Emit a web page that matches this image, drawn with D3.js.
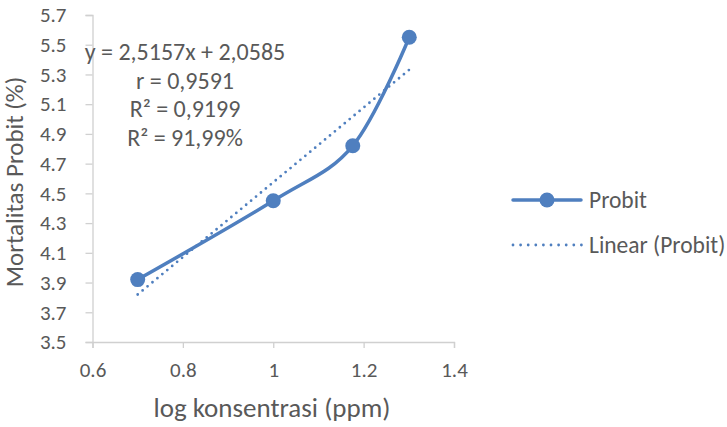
<!DOCTYPE html>
<html>
<head>
<meta charset="utf-8">
<script src="https://cdn.jsdelivr.net/npm/d3@7"></script>
<style>
  body { margin: 0; background: #fff; }
  text { font-family: Calibri, Carlito, Lato, "Open Sans", sans-serif; fill: #595959; }
</style>
</head>
<body>
<div id="chart"></div>
<script>
// data
var logKonsentrasi = [0.7, 1.0, 1.176, 1.301];
var probit = [3.92, 4.45, 4.82, 5.55];
var trendCoef = [2.5157, 2.0585]; // slope, intercept
var xTicks = [0.6, 0.8, 1, 1.2, 1.4];
var yTicks = [3.5, 3.7, 3.9, 4.1, 4.3, 4.5, 4.7, 4.9, 5.1, 5.3, 5.5, 5.7];
var eqLines = ["y = 2,5157x + 2,0585", "r = 0,9591", "R² = 0,9199", "R² = 91,99%"];
var legendNames = ["Probit", "Linear (Probit)"];

var width = 727, height = 427;
var blue = "#4f7fbf";
var axisCol = "#d0d0d0";

var svg = d3.select("#chart").append("svg")
	.attr("width", width).attr("height", height);

var x = d3.scaleLinear().domain([0.6, 1.4]).range([92.5, 454]);
var y = d3.scaleLinear().domain([3.5, 5.7]).range([342, 15]);

// x axis
var xAxis = svg.append("g")
	.attr("transform", "translate(0," + y(3.5) + ")")
	.call(d3.axisBottom(x).tickValues(xTicks).tickSize(6).tickPadding(14)
		.tickFormat(function(d) { return d == 1 ? "1" : d3.format(".1f")(d); }));
xAxis.select(".domain").attr("stroke", axisCol).attr("stroke-width", 1.3);
xAxis.selectAll(".tick line").attr("stroke", axisCol).attr("stroke-width", 1.3);
xAxis.selectAll(".tick text").style("font-size", "21px").attr("fill", "#595959");

// y axis
var yAxis = svg.append("g")
	.attr("transform", "translate(" + x(0.6) + ",0)")
	.call(d3.axisLeft(y).tickValues(yTicks).tickSize(7).tickPadding(19).tickFormat(d3.format(".1f")));
yAxis.select(".domain").attr("stroke", axisCol).attr("stroke-width", 1.3);
yAxis.selectAll(".tick line").attr("stroke", axisCol).attr("stroke-width", 1.3);
yAxis.selectAll(".tick text").style("font-size", "21px").attr("fill", "#595959");

// axis titles
svg.append("text")
	.attr("x", 272).attr("y", 417)
	.attr("text-anchor", "middle")
	.style("font-size", "27px")
	.text("log konsentrasi (ppm)");

svg.append("text")
	.attr("transform", "translate(23,182) rotate(-90)")
	.attr("text-anchor", "middle")
	.style("font-size", "25px")
	.text("Mortalitas Probit (%)");

// trend line
var xMin = d3.min(logKonsentrasi), xMax = d3.max(logKonsentrasi);
var trend = [xMin, xMax].map(function(v) { return [v, trendCoef[0] * v + trendCoef[1]]; });
svg.append("line")
	.attr("x1", x(trend[0][0])).attr("y1", y(trend[0][1]))
	.attr("x2", x(trend[1][0])).attr("y2", y(trend[1][1]))
	.attr("stroke", blue)
	.attr("stroke-width", 2.8)
	.attr("stroke-linecap", "round")
	.attr("stroke-dasharray", "0 6.4");

// smoothed series line
var pts = logKonsentrasi.map(function(v, i) { return [v, probit[i]]; });
var line = d3.line()
	.x(function(d) { return x(d[0]); })
	.y(function(d) { return y(d[1]); })
	.curve(d3.curveCatmullRom.alpha(0));
svg.append("path")
	.datum(pts)
	.attr("d", line)
	.attr("fill", "none")
	.attr("stroke", blue)
	.attr("stroke-width", 3.5)
	.attr("stroke-linecap", "round");

svg.selectAll(".dot")
	.data(pts)
	.enter().append("circle")
	.attr("class", "dot")
	.attr("cx", function(d) { return x(d[0]); })
	.attr("cy", function(d) { return y(d[1]); })
	.attr("r", 7.5)
	.attr("fill", blue);

// trendline label
svg.selectAll(".eq")
	.data(eqLines)
	.enter().append("text")
	.attr("class", "eq")
	.attr("x", 185)
	.attr("y", function(d, i) { return 52 + i * 28.5; })
	.attr("dy", "0.35em")
	.attr("text-anchor", "middle")
	.style("font-size", "24px")
	.text(function(d) { return d; });

// legend
var leg = svg.append("g");
leg.append("line")
	.attr("x1", 513).attr("x2", 581).attr("y1", 200).attr("y2", 200)
	.attr("stroke", blue).attr("stroke-width", 3.5).attr("stroke-linecap", "round");
leg.append("circle").attr("cx", 547).attr("cy", 200).attr("r", 7.5).attr("fill", blue);
leg.append("line")
	.attr("x1", 513).attr("x2", 582).attr("y1", 245).attr("y2", 245)
	.attr("stroke", blue).attr("stroke-width", 2.8)
	.attr("stroke-linecap", "round").attr("stroke-dasharray", "0 7.6");
leg.selectAll(".legtext")
	.data(legendNames)
	.enter().append("text")
	.attr("class", "legtext")
	.attr("x", 589)
	.attr("y", function(d, i) { return 200 + i * 45; })
	.attr("dy", "0.35em")
	.style("font-size", "23.5px")
	.text(function(d) { return d; });
</script>
</body>
</html>
